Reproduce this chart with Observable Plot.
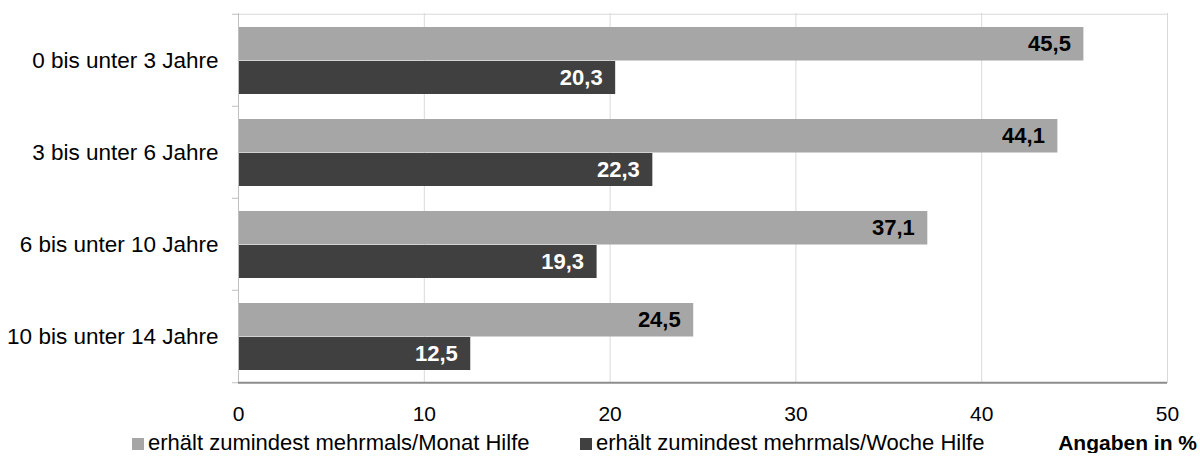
<!DOCTYPE html>
<html>
<head>
<meta charset="utf-8">
<script src="https://cdn.jsdelivr.net/npm/d3@7"></script>
<script src="https://cdn.jsdelivr.net/npm/@observablehq/plot@0.6"></script>
<style>
  html, body { margin: 0; padding: 0; background: #fff; }
  #chart svg { display: block; }
  .legend { position: relative; width: 1200px; height: 20px; line-height: 20px;
            font-family: 'Liberation Sans', Arial, sans-serif; font-size: 22px; color: #000; white-space: nowrap; }
  .legend span.item { position: absolute; top: 0; }
  .legend .sw { display: inline-block; width: 12px; height: 12px; margin-right: 4px; vertical-align: baseline; }
  .legend .unit { font-weight: bold; font-size: 21px; }
</style>
</head>
<body>
<div id="chart"></div>
<div class="legend" id="legend"></div>
<script>
const categories = ["0 bis unter 3 Jahre", "3 bis unter 6 Jahre", "6 bis unter 10 Jahre", "10 bis unter 14 Jahre"];
const monat = [45.5, 44.1, 37.1, 24.5];
const woche = [20.3, 22.3, 19.3, 12.5];
const xTicks = [0, 10, 20, 30, 40, 50];
const seriesNames = ["erhält zumindest mehrmals/Monat Hilfe", "erhält zumindest mehrmals/Woche Hilfe"];
const unitLabel = "Angaben in %";

const colors = ["#a6a6a6", "#404040"];
const fmt = d => d.toFixed(1).replace(".", ",");

const rowsMonat = categories.map((c, i) => ({category: c, value: monat[i]}));
const rowsWoche = categories.map((c, i) => ({category: c, value: woche[i]}));

const W = 1200, H = 433, mT = 13, mB = 50, mL = 238, mR = 33;
const step = (H - mT - mB) / categories.length;

const chart = Plot.plot({
  width: W, height: H,
  marginLeft: mL, marginRight: mR, marginTop: mT, marginBottom: mB,
  style: {fontFamily: "'Liberation Sans', Arial, sans-serif", fontSize: "20px", color: "#000", background: "#fff"},
  x: {domain: [0, 50]},
  y: {domain: categories, padding: 0},
  marks: [
    Plot.ruleX(xTicks.slice(1), {stroke: "#d9d9d9"}),
    Plot.ruleY([categories[0]], {dy: -step / 2, stroke: "#d9d9d9"}),
    Plot.barX(rowsMonat, {x: "value", y: "category", fill: colors[0], insetTop: 13, insetBottom: 45.5}),
    Plot.barX(rowsWoche, {x: "value", y: "category", fill: colors[1], insetTop: 47, insetBottom: 12}),
    Plot.ruleX([0], {stroke: "#bfbfbf"}),
    Plot.ruleY(categories, {y: d => d, x1: 0, x2: 0, insetLeft: -6, dy: -step / 2, stroke: "#bfbfbf"}),
    Plot.ruleY([categories[categories.length - 1]], {x1: 0, x2: 0, insetLeft: -6, dy: step / 2, stroke: "#bfbfbf"}),
    Plot.ruleY([categories[categories.length - 1]], {dy: step / 2, stroke: "#8c8c8c", strokeWidth: 2}),
    Plot.text(rowsMonat, {x: "value", y: "category", text: d => fmt(d.value), textAnchor: "end", dx: -13, dy: -16.25,
      fill: "#000", fontWeight: "bold", fontSize: 22}),
    Plot.text(rowsWoche, {x: "value", y: "category", text: d => fmt(d.value), textAnchor: "end", dx: -13, dy: 17.5,
      fill: "#fff", fontWeight: "bold", fontSize: 22}),
    Plot.axisX({ticks: xTicks, tickSize: 0, tickPadding: 23, fontSize: 21, tickFormat: d => String(d), label: null}),
    Plot.axisY({tickSize: 0, tickPadding: 20, fontSize: 22.5, label: null})
  ]
});
document.getElementById("chart").appendChild(chart);

const legend = document.getElementById("legend");
const lefts = [132, 580];
seriesNames.forEach((name, i) => {
  const s = document.createElement("span");
  s.className = "item";
  s.style.left = lefts[i] + "px";
  const sw = document.createElement("span");
  sw.className = "sw";
  sw.style.background = colors[i];
  s.appendChild(sw);
  s.appendChild(document.createTextNode(name));
  legend.appendChild(s);
});
const u = document.createElement("span");
u.className = "item unit";
u.style.right = "3px";
u.textContent = unitLabel;
legend.appendChild(u);
</script>
</body>
</html>
